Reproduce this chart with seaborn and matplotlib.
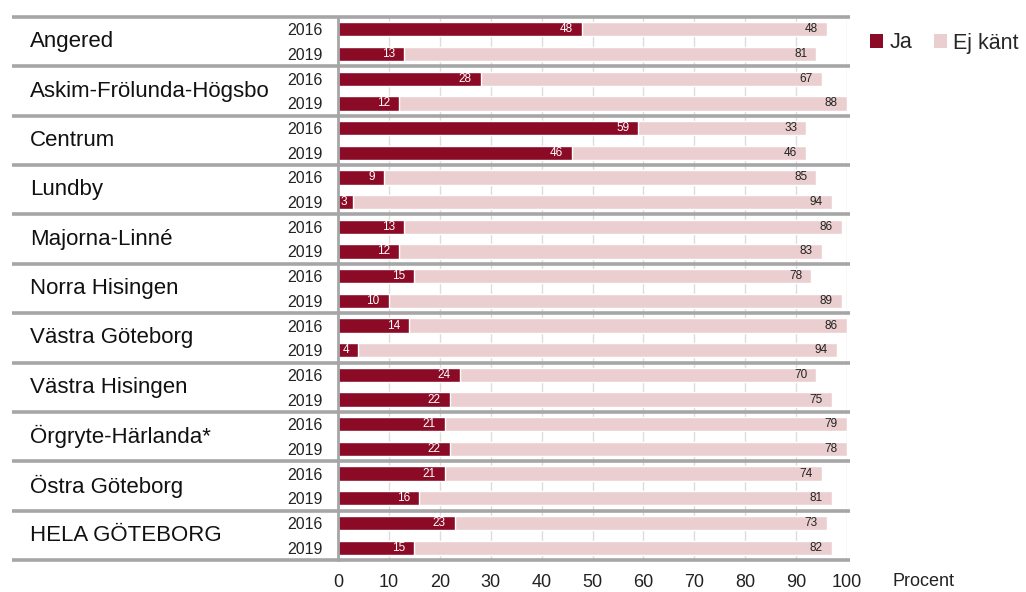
import matplotlib
matplotlib.use("Agg")
import matplotlib.pyplot as plt
import seaborn as sns
import pandas as pd
import numpy as np
from matplotlib.transforms import blended_transform_factory
from matplotlib.patches import Patch

regions = ["Angered", "Askim-Frölunda-Högsbo", "Centrum", "Lundby", "Majorna-Linné",
           "Norra Hisingen", "Västra Göteborg", "Västra Hisingen", "Örgryte-Härlanda*",
           "Östra Göteborg", "HELA GÖTEBORG"]
years = ["2016", "2019"]
ja = [48, 13, 28, 12, 59, 46, 9, 3, 13, 12, 15, 10, 14, 4, 24, 22, 21, 22, 21, 16, 23, 15]
ej_kant = [48, 81, 67, 88, 33, 46, 85, 94, 86, 83, 78, 89, 86, 94, 70, 75, 79, 78, 74, 81, 73, 82]
xticks = [0, 10, 20, 30, 40, 50, 60, 70, 80, 90, 100]

C_JA = "#8B0A25"
C_EJ = "#EBCFD0"
GRAY = "#A6A6A6"

rows = [f"{r} {y}" for r in regions for y in years]
df = pd.DataFrame({"row": rows, "Ja": ja, "Ej": ej_kant})
df["total"] = df["Ja"] + df["Ej"]

sns.set_theme(style="white")
plt.rcParams["font.family"] = ["Liberation Sans", "DejaVu Sans"]

fig = plt.figure(figsize=(10.26, 5.92), dpi=100)
ax = fig.add_axes([338 / 1026, 1 - 560 / 592, (847 - 338) / 1026, (560 - 17) / 592])

sns.barplot(data=df, y="row", x="total", color=C_EJ, orient="h", width=0.58,
            ax=ax, saturation=1, order=rows)
sns.barplot(data=df, y="row", x="Ja", color=C_JA, orient="h", width=0.58,
            ax=ax, saturation=1, order=rows)

ax.set_xlim(0, 100)
ax.set_ylim(len(rows) - 0.5, -0.5)
ax.set_xlabel("")
ax.set_ylabel("")
ax.set_xticks(xticks)
ax.set_xticklabels([str(t) for t in xticks], fontsize=13, color="#222222")
ax.set_yticks(range(len(rows)))
ax.set_yticklabels([y for r in regions for y in years], fontsize=11.5, color="#222222")
ax.tick_params(axis="y", length=0, pad=11)
ax.tick_params(axis="x", length=5, width=1, color=GRAY, pad=5, direction="out")
ax.xaxis.grid(True, color="#DDDDDD", lw=1)
ax.set_axisbelow(True)
for s in ["top", "right", "bottom"]:
    ax.spines[s].set_visible(False)
ax.spines["left"].set_color(GRAY)
ax.spines["left"].set_linewidth(2)

# value labels
for i, (a, e) in enumerate(zip(ja, ej_kant)):
    ax.text(max(a - 1.8, 1.7), i, str(a), ha="right", va="center", fontsize=8.5, color="white")
    ax.text(a + e - 1.8, i, str(e), ha="right", va="center", fontsize=8.5, color="#222222")

# group separators and region names
tr = blended_transform_factory(fig.transFigure, ax.transData)
for k in range(len(regions) + 1):
    yv = 2 * k - 0.5
    ax.plot([12 / 1026, 850 / 1026], [yv, yv], transform=tr, color=GRAY,
            lw=2.6, clip_on=False, solid_capstyle="butt", zorder=5)
for k, r in enumerate(regions):
    ax.text(30 / 1026, 2 * k + 0.5, r, transform=tr, ha="left", va="center",
            fontsize=16, color="#111111")

# axis label
fig.text(893 / 1026, 1 - 582 / 592, "Procent", ha="left", va="center",
         fontsize=13, color="#222222")

handles = [Patch(facecolor=C_JA, edgecolor="none", label="Ja"),
           Patch(facecolor=C_EJ, edgecolor="none", label="Ej känt")]
fig.legend(handles=handles, loc="center left", bbox_to_anchor=(870 / 1026, 1 - 43 / 592),
           ncol=2, frameon=False, fontsize=15.5, handlelength=0.6, handleheight=0.6,
           handletextpad=0.3, columnspacing=1.0, borderaxespad=0, borderpad=0)

fig.savefig("out.png", dpi=100)
